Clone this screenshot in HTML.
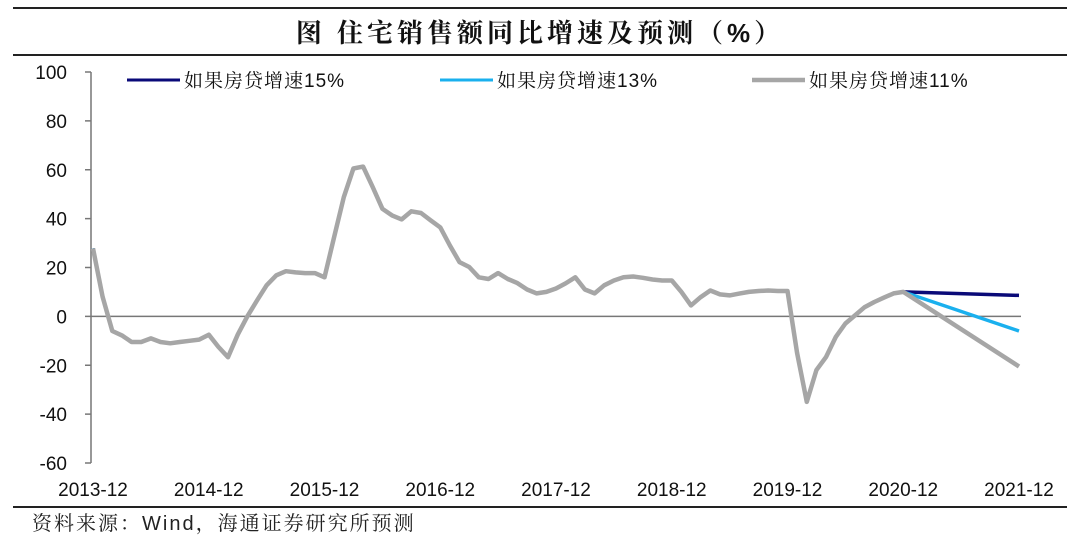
<!DOCTYPE html>
<html><head><meta charset="utf-8"><style>
body{margin:0;background:#fff;width:1080px;height:537px;overflow:hidden;font-family:"Liberation Sans","Noto Sans CJK SC",sans-serif}
svg text{font-family:"Liberation Sans","Noto Sans CJK SC",sans-serif}
svg text.cjk{font-family:"Liberation Sans","Noto Serif CJK SC",serif}
</style></head><body>
<svg id="chart" width="1080" height="537" xmlns="http://www.w3.org/2000/svg">
<line x1="13" y1="8" x2="1067" y2="8" stroke="#222" stroke-width="2"/>
<text class="cjk" x="540" y="42" text-anchor="middle" font-size="26" font-weight="bold" letter-spacing="4" fill="#111">图  住宅销售额同比增速及预测（%）</text>
<line x1="13" y1="55" x2="1067" y2="55" stroke="#222" stroke-width="2"/>
<line x1="13" y1="507" x2="1067" y2="507" stroke="#222" stroke-width="2"/>
<text class="cjk" x="32" y="530" font-size="20" letter-spacing="2" fill="#222">资料来源：Wind，海通证券研究所预测</text>
<g id="axes"></g>
<g id="series"></g>
<g id="legend"></g>
</svg>
<script>
const xLabels=["2013-12","2014-12","2015-12","2016-12","2017-12","2018-12","2019-12","2020-12","2021-12"];
const yTicks=[100,80,60,40,20,0,-20,-40,-60];
const history=[27.8,8,-6,-7.8,-10.5,-10.5,-9,-10.5,-11,-10.5,-10,-9.5,-7.5,-12.5,-16.7,-7.5,0,6.5,12.7,16.8,18.5,18,17.7,17.7,16,32.4,48.8,60.5,61.3,52.9,44,41.3,39.7,43,42.3,39.3,36.4,29,22.2,20.2,16,15.3,17.7,15.3,13.6,11,9.4,10,11.4,13.5,16,11,9.4,12.7,14.7,16,16.3,15.8,15.1,14.7,14.7,10,4.5,7.9,10.6,9,8.6,9.3,10,10.4,10.6,10.4,10.4,-15,-35,-22,-16.6,-8.5,-2.9,0.4,3.8,5.9,7.7,9.4,10];
const seriesNames=["如果房贷增速15%","如果房贷增速13%","如果房贷增速11%"];
const forecastEnd=[8.6,-6,-20.5];
const seriesColors=["#0a0a78","#1ab0ee","#a6a6a6"];
const NS="http://www.w3.org/2000/svg";
const X0=93,X1=1019,Y0=72,Y1=463,NMON=96;
const xs=i=>X0+(X1-X0)*i/NMON;
const ys=v=>Y0+(100-v)*(Y1-Y0)/160;
function mk(tag,attrs,parent){const e=document.createElementNS(NS,tag);for(const k in attrs)e.setAttribute(k,attrs[k]);parent.appendChild(e);return e;}
const ax=document.getElementById('axes');
let l=mk('line',{x1:91,y1:Y0,x2:91,y2:Y1,stroke:'#777','stroke-width':1.5},ax);


yTicks.forEach(v=>{
 const t=mk('line',{x1:85,y1:ys(v),x2:91,y2:ys(v),stroke:'#777','stroke-width':1.5},ax);
 
 
 const tx=mk('text',{x:67,y:ys(v)+7,'text-anchor':'end','font-size':19,fill:'#111'},ax);
 tx.textContent=v;
 
 
});
const z=mk('line',{x1:91,y1:ys(0),x2:X1+2,y2:ys(0),stroke:'#777','stroke-width':1.5},ax);


xLabels.forEach((s,k)=>{
 const tx=mk('text',{x:xs(k*12),y:496,'text-anchor':'middle','font-size':19,fill:'#111'},ax);
 tx.textContent=s;
 
 
});
const sg=document.getElementById('series');
seriesNames.forEach((n,s)=>{
 const pts=history.map((v,i)=>xs(i).toFixed(1)+','+ys(v).toFixed(1));
 pts.push(xs(NMON).toFixed(1)+','+ys(forecastEnd[s]).toFixed(1));
 const p=mk('polyline',{points:pts.join(' '),fill:'none',stroke:seriesColors[s],'stroke-width':s==2?4.5:3.5,'stroke-linejoin':'round'},sg);
 
 
});
const lg=document.getElementById('legend');
const lx=[127,440,752];
seriesNames.forEach((n,s)=>{
 const g=mk('g',{},lg);
 
 
 mk('line',{x1:lx[s],y1:80,x2:lx[s]+53,y2:80,stroke:seriesColors[s],'stroke-width':s==2?4.5:3},g);
 const t=mk('text',{x:lx[s]+57,y:87,'font-size':19,fill:'#111',class:'cjk','letter-spacing':1},g);
 t.textContent=n;
});
</script>
</body></html>
